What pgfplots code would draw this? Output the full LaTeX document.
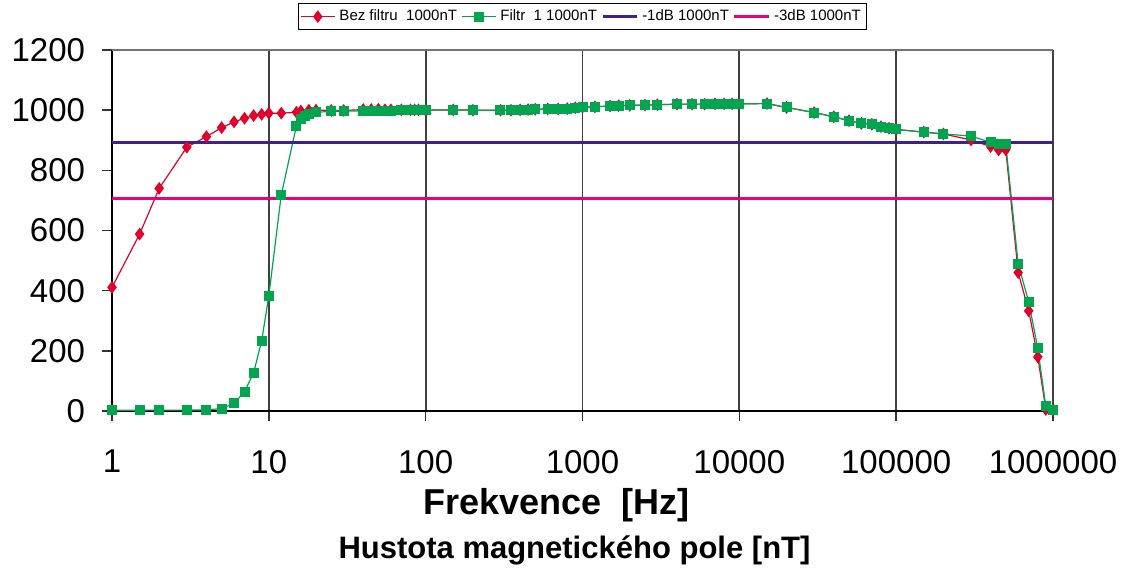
\documentclass[border=0pt]{standalone}
\usepackage{pgfplots}
\pgfplotsset{compat=1.18}
\usepackage{pgfplotstable}
\usepackage{fontspec}
\setmainfont{Liberation Sans}
\definecolor{cred}{RGB}{226,0,42}
\definecolor{cgreen}{RGB}{0,165,80}
\definecolor{cpurple}{RGB}{64,32,140}
\definecolor{cpink}{RGB}{232,0,125}

\pgfplotstableread{
f v
1 411
1.5 588
2 740
3 877
4 912
5 942
6 961
7 973
8 982
9 986
10 990
12 990
15 993
16 997
18 1000
20 1000
25 999
30 999
40 1002
45 1002
50 1003
55 1001
60 1001
70 1001
80 1001
85 1001
90 1001
100 1000
150 1001
200 1000
300 1000
350 1000
400 1001
450 1002
500 1003
600 1004
700 1004
800 1005
900 1008
1000 1010
1200 1011
1500 1014
1700 1015
2000 1016
2500 1017
3000 1018
4000 1020
5000 1020
6000 1020
7000 1021
8000 1021
9000 1021
10000 1021
15000 1022
20000 1009
30000 992
40000 978
50000 965
60000 956
70000 953
80000 945
90000 940
100000 936
150000 927
200000 921
300000 901
400000 879
450000 868
500000 868
600000 460
700000 333
800000 180
900000 5
1000000 3
}\bezfiltru

\pgfplotstableread{
f v
1 2
1.5 3
2 3
3 3
4 4
5 8
6 25
7 64
8 127
9 233
10 383
12 718
15 948
16 971
17 982
18 987
20 993
25 996
30 997
40 997
45 997
50 998
55 998
60 998
70 999
80 999
85 999
90 1000
100 1000
150 1001
200 1000
300 1000
350 1000
400 1001
450 1002
500 1003
600 1004
700 1004
800 1005
900 1008
1000 1010
1200 1011
1500 1014
1700 1015
2000 1016
2500 1017
3000 1018
4000 1020
5000 1020
6000 1020
7000 1021
8000 1021
9000 1021
10000 1021
15000 1022
20000 1009
30000 992
40000 978
50000 965
60000 956
70000 953
80000 945
90000 940
100000 936
150000 927
200000 921
300000 914
400000 893
450000 886
500000 886
600000 488
700000 363
800000 208
900000 15
1000000 5
}\filtr

\pgfplotstableread{
f v
1 891
1000000 891
}\dbone

\pgfplotstableread{
f v
1 708
1000000 708
}\dbthree

\begin{document}
\begin{tikzpicture}
\path[use as bounding box] (-56pt,-81.5pt) rectangle (508.5pt,205.5pt);
\begin{axis}[
  name=ax,
  scale only axis,
  width=470.5pt, height=180.5pt,
  xmode=log, log basis x=10,
  xmin=1, xmax=1000000, ymin=0, ymax=1200,
  xtick={1,10,100,1000,10000,100000,1000000},
  xticklabels={1,10,100,1000,10000,100000,1000000},
  ytick={0,200,400,600,800,1000,1200},
  yticklabels={0,200,400,600,800,1000,1200},
  axis x line*=bottom, axis y line*=left,
  axis line style={line width=1.25pt, -},
  tick align=outside,
  major tick length=5pt, minor tick length=0pt,
  tick style={black!80, line width=0.8pt},
  xmajorgrids, xminorgrids,
  major grid style={black!75, line width=0.9pt},
  minor grid style={black!15, line width=0.8pt},
  ticklabel style={font=\fontsize{16.5}{18}\selectfont},
  xticklabel style={yshift=-11pt},
  yticklabel style={xshift=-5pt},
  /pgf/number format/assume math mode=true,
  clip=false,
  legend columns=4,
  legend cell align=left,
  legend style={at={(0.5,1)}, anchor=south, yshift=10pt,
    font=\fontsize{7.5}{9}\selectfont, draw=black, thin,
    inner sep=1pt,
    /tikz/every even column/.append style={column sep=0pt}},
]
\draw[black!55, line width=1pt] (rel axis cs:0,1) -- (rel axis cs:1,1);
\addplot[cred, line width=0.6pt, mark=diamond*, mark size=2.7pt, mark options={solid}] table[x=f,y=v] {\bezfiltru};
\addlegendentry{Bez filtru~~1000nT}
\addplot[cgreen, line width=0.6pt, mark=square*, mark size=2.2pt] table[x=f,y=v] {\filtr};
\addlegendentry{Filtr~~1 1000nT}
\addplot[cpurple, line width=1.5pt, no marks] table[x=f,y=v] {\dbone};
\addlegendentry{-1dB 1000nT}
\addplot[cpink, line width=1.5pt, no marks] table[x=f,y=v] {\dbthree};
\addlegendentry{-3dB 1000nT}
\end{axis}
\node[font=\bfseries\fontsize{18}{20}\selectfont] at ([xshift=-13pt,yshift=-47pt]ax.south) {Frekvence~~[Hz]};
\node[font=\bfseries\fontsize{15.5}{17}\selectfont] at ([xshift=-4pt,yshift=-69.5pt]ax.south) {Hustota magnetického pole [nT]};
\end{tikzpicture}
\end{document}
